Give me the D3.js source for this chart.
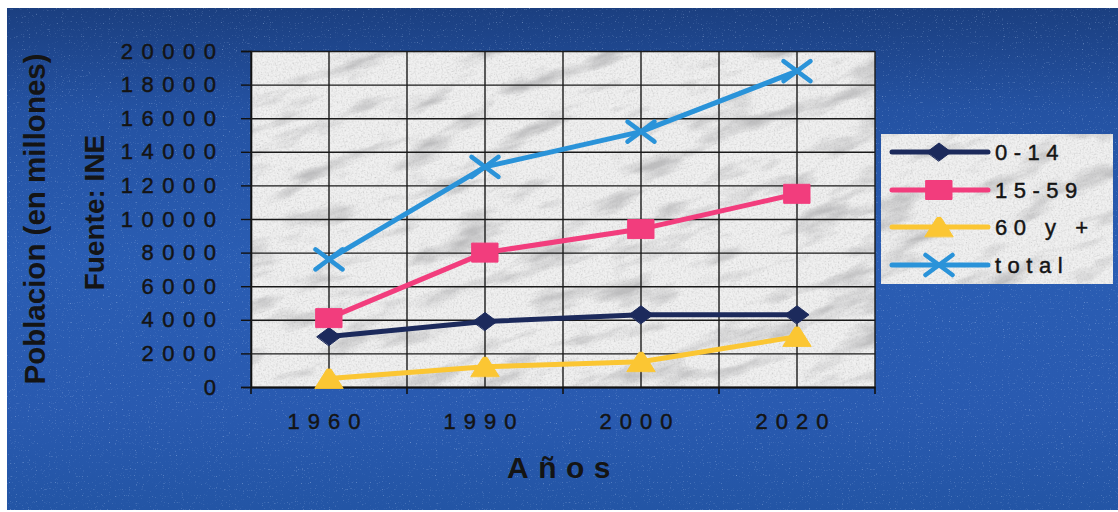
<!DOCTYPE html>
<html>
<head>
<meta charset="utf-8">
<script src="https://cdn.jsdelivr.net/npm/d3@7"></script>
<style>
  html, body { margin: 0; padding: 0; background: #ffffff; }
  svg { display: block; }
  text { font-family: "Liberation Sans", Arial, sans-serif; fill: #141414; }
</style>
</head>
<body>
<svg id="chart" width="1118" height="512"></svg>
<script>
// Population by age group (en millones), source INE
const years = ["1960", "1990", "2000", "2020"];
const age0to14 = [3000, 3900, 4300, 4300];
const age15to59 = [4100, 8000, 9400, 11500];
const age60plus = [500, 1200, 1500, 3000];
const totalPop = [7600, 13100, 15200, 18800];
const seriesNames = ["0-14", "15-59", "60 y +", "total"];
const yTicks = [0, 2000, 4000, 6000, 8000, 10000, 12000, 14000, 16000, 18000, 20000];

const seriesValues = [age0to14, age15to59, age60plus, totalPop];
const seriesColors = ["#1c2a5c", "#f23d7d", "#fbc633", "#2a93d9"];
const seriesMarkers = ["diamond", "square", "triangle", "cross"];

const svg = d3.select("#chart");
const defs = svg.append("defs");

// Blue backdrop gradient
const grad = defs.append("linearGradient").attr("id", "bg").attr("x1", 0).attr("y1", 0).attr("x2", 0).attr("y2", 1);
[[0, "#1b3f80"], [0.2, "#2452a2"], [0.5, "#2a5db3"], [0.8, "#295ab0"], [1, "#2355a5"]]
  .forEach(([o, c]) => grad.append("stop").attr("offset", o).attr("stop-color", c));

// Light speckle over the blue backdrop
const speck = defs.append("filter").attr("id", "speck").attr("x", 0).attr("y", 0).attr("width", 1).attr("height", 1);
speck.append("feTurbulence").attr("type", "fractalNoise").attr("baseFrequency", 0.85).attr("numOctaves", 1).attr("seed", 5).attr("result", "n");
speck.append("feColorMatrix").attr("in", "n").attr("type", "matrix")
  .attr("values", "0 0 0 0 0.6  0 0 0 0 0.75  0 0 0 0 1  4 0 0 0 -2.6").attr("result", "dots");
speck.append("feComposite").attr("in", "dots").attr("in2", "SourceGraphic").attr("operator", "in");

// Marble texture for plot area and legend
const marble = defs.append("filter").attr("id", "marble").attr("x", 0).attr("y", 0).attr("width", 1).attr("height", 1);
marble.append("feFlood").attr("flood-color", "#f1f1f1").attr("result", "base");
marble.append("feTurbulence").attr("type", "fractalNoise").attr("baseFrequency", "0.014 0.045").attr("numOctaves", 4).attr("seed", 11).attr("result", "n1");
marble.append("feColorMatrix").attr("in", "n1").attr("type", "matrix")
  .attr("values", "0 0 0 0 0.52  0 0 0 0 0.52  0 0 0 0 0.53  3.1 0 0 0 -1.58").attr("result", "smudge");
marble.append("feTurbulence").attr("type", "fractalNoise").attr("baseFrequency", 0.7).attr("numOctaves", 1).attr("seed", 3).attr("result", "n2");
marble.append("feColorMatrix").attr("in", "n2").attr("type", "matrix")
  .attr("values", "0 0 0 0 0.45  0 0 0 0 0.45  0 0 0 0 0.45  1.8 0 0 0 -0.82").attr("result", "grain");
const mm = marble.append("feMerge");
mm.append("feMergeNode").attr("in", "base");
mm.append("feMergeNode").attr("in", "smudge");
mm.append("feMergeNode").attr("in", "grain");

// Fills a box with slanted marble streaks
function marbleBox(parent, id, bx, by, bw, bh) {
  defs.append("clipPath").attr("id", id)
    .append("rect").attr("x", bx).attr("y", by).attr("width", bw).attr("height", bh);
  const ccx = bx + bw / 2, ccy = by + bh / 2, r = Math.hypot(bw, bh) / 2 + 4;
  parent.append("g").attr("clip-path", `url(#${id})`)
    .append("rect")
    .attr("x", ccx - r).attr("y", ccy - r).attr("width", 2 * r).attr("height", 2 * r)
    .attr("transform", `rotate(-18,${ccx},${ccy})`)
    .attr("filter", "url(#marble)");
}

// Backdrop
svg.append("rect").attr("x", 7).attr("y", 8).attr("width", 1111).attr("height", 502).attr("fill", "url(#bg)");
svg.append("rect").attr("x", 7).attr("y", 8).attr("width", 1111).attr("height", 502).attr("fill", "#ffffff").attr("filter", "url(#speck)").attr("opacity", 0.5);

// Scales
const plot = { left: 251, right: 875, top: 51, bottom: 387 };
const x = d3.scaleBand().domain(years).range([plot.left, plot.right]).padding(0);
const y = d3.scaleLinear().domain([0, 20000]).range([plot.bottom, plot.top]);
const cx = d => x(d) + x.bandwidth() / 2;

// Plot area
marbleBox(svg, "plotBox", plot.left, plot.top, plot.right - plot.left, plot.bottom - plot.top);

// Vertical gridlines: category edges and centres
const vLines = [];
years.forEach(d => { vLines.push(x(d)); vLines.push(cx(d)); });
vLines.push(plot.right);
svg.append("g").selectAll("line").data(vLines).join("line")
  .attr("x1", d => d).attr("x2", d => d)
  .attr("y1", plot.top).attr("y2", plot.bottom)
  .attr("stroke", "#1a1a1a").attr("stroke-width", 1.4);

// Y axis with horizontal gridlines
const TICK_LS = 8.5;
const yAxis = svg.append("g").attr("transform", `translate(${plot.left},0)`)
  .call(d3.axisLeft(y).tickValues(yTicks).tickSize(10).tickPadding(25 - TICK_LS).tickFormat(d3.format("d")));
yAxis.select(".domain").attr("stroke", "#111").attr("stroke-width", 1.6);
yAxis.selectAll(".tick line").attr("stroke", "#111").attr("stroke-width", 1.4);
yAxis.selectAll(".tick text")
  .style("font-size", "22px").style("letter-spacing", TICK_LS + "px")
  .attr("fill", "#141414").attr("stroke", "#141414").attr("stroke-width", 0.45);
yAxis.selectAll(".tick").append("line")
  .attr("x1", 0).attr("x2", plot.right - plot.left)
  .attr("stroke", "#1a1a1a").attr("stroke-width", 1.4);

// X axis: labels at category centres, ticks at category edges
const xAxis = svg.append("g").attr("transform", `translate(0,${plot.bottom})`)
  .call(d3.axisBottom(x).tickSize(0).tickPadding(26));
xAxis.select(".domain").attr("stroke", "#111").attr("stroke-width", 2);
xAxis.selectAll(".tick text")
  .style("font-size", "22px").style("letter-spacing", "8px").attr("dx", -1)
  .attr("fill", "#141414").attr("stroke", "#141414").attr("stroke-width", 0.45);
const edges = years.map(d => x(d)).concat([plot.right]);
xAxis.append("g").selectAll("line").data(edges).join("line")
  .attr("x1", d => d).attr("x2", d => d).attr("y1", 0).attr("y2", 7)
  .attr("stroke", "#111").attr("stroke-width", 1.6);

// Marker shapes (width, height)
function markerPath(kind) {
  switch (kind) {
    case "diamond": return { d: "M-12,0L0,-9L12,0L0,9Z", fill: true };
    case "square": return { d: "M-13,-9.5H13V9.5H-13Z", fill: true };
    case "triangle": return { d: "M-14,9.5L-2,-9.5H2L14,9.5Z", fill: true };
    default: return { d: "M-13.5,-10L13.5,10M-13.5,10L13.5,-10", fill: false };
  }
}
function drawMarker(g, kind, color) {
  const m = markerPath(kind);
  g.append("path").attr("d", m.d)
    .attr("fill", m.fill ? color : "none")
    .attr("stroke", color)
    .attr("stroke-width", m.fill ? 1 : 4.5)
    .attr("stroke-linejoin", "round")
    .attr("stroke-linecap", "round");
}

// Series lines and markers
const line = d3.line().x((d, i) => cx(years[i])).y(d => y(d));
seriesValues.forEach((vals, si) => {
  const g = svg.append("g");
  g.append("path").datum(vals).attr("d", line)
    .attr("fill", "none").attr("stroke", seriesColors[si]).attr("stroke-width", 5)
    .attr("stroke-linejoin", "round");
  vals.forEach((v, i) => {
    const mg = g.append("g").attr("transform", `translate(${cx(years[i])},${y(v)})`);
    drawMarker(mg, seriesMarkers[si], seriesColors[si]);
  });
});

// Axis titles
svg.append("text")
  .attr("transform", "translate(45,219) rotate(-90)")
  .attr("text-anchor", "middle")
  .style("font-size", "29.5px").style("font-weight", "bold")
  .text("Poblacion (en millones)");
svg.append("text")
  .attr("transform", "translate(104,212.5) rotate(-90)")
  .attr("text-anchor", "middle")
  .style("font-size", "28px").style("font-weight", "bold")
  .text("Fuente: INE");
svg.append("text")
  .attr("x", 507).attr("y", 478)
  .style("font-size", "30px").style("font-weight", "bold").style("letter-spacing", "9.5px")
  .text("Años");

// Legend
const legend = svg.append("g");
marbleBox(legend, "legendBox", 881, 134, 232, 150);
const rowY = [152, 190, 227, 265];
seriesNames.forEach((name, si) => {
  const ly = rowY[si];
  legend.append("line").attr("x1", 892).attr("x2", 988).attr("y1", ly).attr("y2", ly)
    .attr("stroke", seriesColors[si]).attr("stroke-width", 5).attr("stroke-linecap", "round");
  const mg = legend.append("g").attr("transform", `translate(939,${ly})`);
  drawMarker(mg, seriesMarkers[si], seriesColors[si]);
  legend.append("text").attr("x", 995).attr("y", ly + 8)
    .style("font-size", "22px").style("letter-spacing", "6.5px")
    .attr("stroke", "#141414").attr("stroke-width", 0.45)
    .text(name);
});
</script>
</body>
</html>
